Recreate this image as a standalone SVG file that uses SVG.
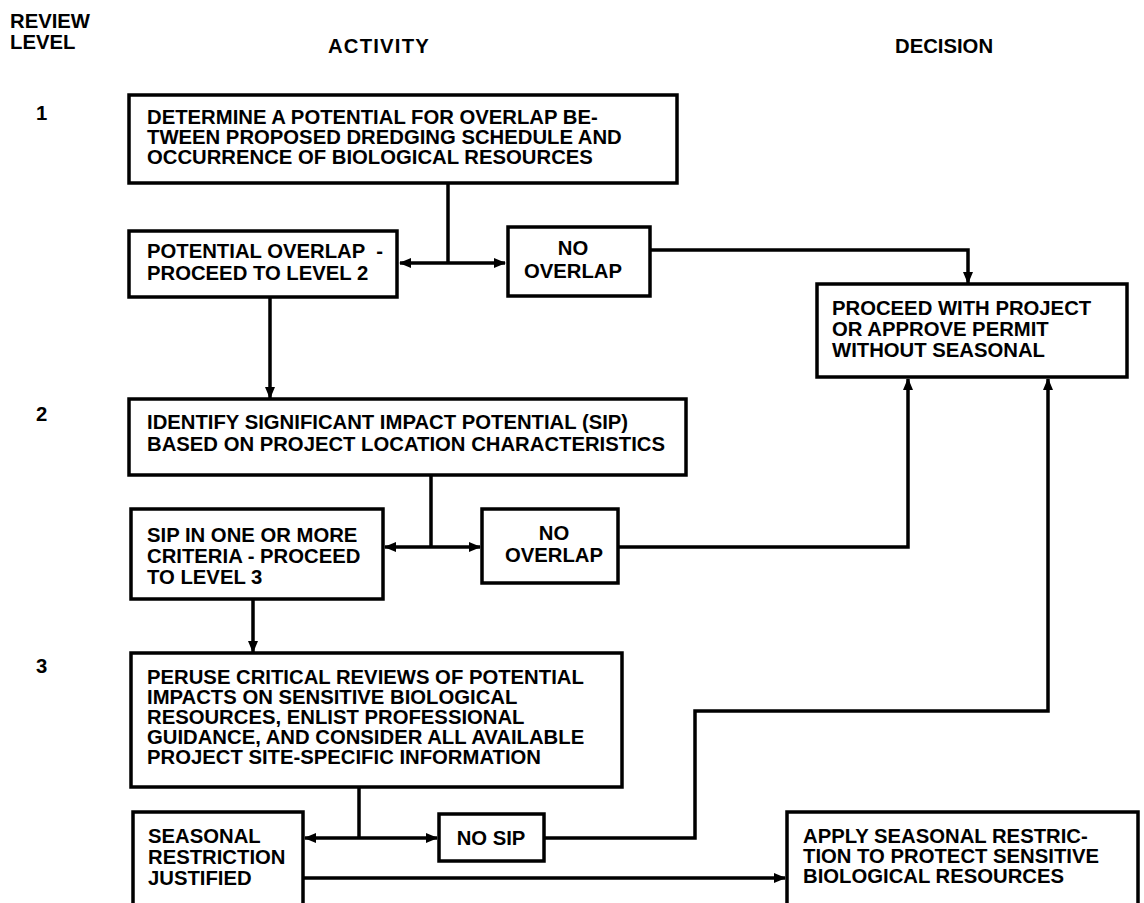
<svg xmlns="http://www.w3.org/2000/svg" width="1144" height="903" viewBox="0 0 1144 903">
<defs>
<style>
text{font-family:"Liberation Sans",Arial,sans-serif;font-weight:bold;font-size:20.3px;fill:#000;white-space:pre}
.box{fill:#fff;stroke:#000;stroke-width:3.5}
.c{fill:none;stroke:#000;stroke-width:3.5}
.m{text-anchor:middle}
</style>
<marker id="ah" viewBox="0 0 12 10" refX="11" refY="5" markerWidth="12" markerHeight="10" markerUnits="userSpaceOnUse" orient="auto-start-reverse">
<path d="M0,0 L12,5 L0,10 z" fill="#000"/>
</marker>
</defs>
<rect width="1144" height="903" fill="#fff"/>

<g id="headers">
<text x="10" y="28">REVIEW</text>
<text x="10" y="49">LEVEL</text>
<text x="328" y="53" letter-spacing="1.2">ACTIVITY</text>
<text x="895" y="53">DECISION</text>
<text x="36" y="120">1</text>
<text x="36" y="421">2</text>
<text x="36" y="673">3</text>
</g>

<g id="connectors">
<path class="c" d="M448,183 V263"/>
<path class="c" d="M400,263 H505" marker-start="url(#ah)" marker-end="url(#ah)"/>
<path class="c" d="M650,250 H968 V283" marker-end="url(#ah)"/>
<path class="c" d="M270,297 V398" marker-end="url(#ah)"/>
<path class="c" d="M431,475 V547"/>
<path class="c" d="M385,547 H480" marker-start="url(#ah)" marker-end="url(#ah)"/>
<path class="c" d="M618,547 H908 V379" marker-end="url(#ah)"/>
<path class="c" d="M253,599 V652" marker-end="url(#ah)"/>
<path class="c" d="M359,787 V838"/>
<path class="c" d="M305,838 H437" marker-start="url(#ah)" marker-end="url(#ah)"/>
<path class="c" d="M544,838 H695 V711 H1048 V379" marker-end="url(#ah)"/>
<path class="c" d="M303,878 H785" marker-end="url(#ah)"/>
</g>

<g id="determine">
<rect class="box" x="129" y="95" width="548" height="88"/>
<text x="147" y="124">DETERMINE A POTENTIAL FOR OVERLAP BE-</text>
<text x="147" y="144">TWEEN PROPOSED DREDGING SCHEDULE AND</text>
<text x="147" y="164">OCCURRENCE OF BIOLOGICAL RESOURCES</text>
</g>

<g id="potential-overlap">
<rect class="box" x="129" y="231" width="268" height="66"/>
<text x="147" y="258">POTENTIAL OVERLAP  -</text>
<text x="147" y="280">PROCEED TO LEVEL 2</text>
</g>

<g id="no-overlap-1">
<rect class="box" x="508" y="227" width="142" height="69"/>
<text class="m" x="573" y="255">NO</text>
<text class="m" x="573" y="278">OVERLAP</text>
</g>

<g id="proceed">
<rect class="box" x="817" y="284" width="310" height="93"/>
<text x="832" y="315">PROCEED WITH PROJECT</text>
<text x="832" y="336">OR APPROVE PERMIT</text>
<text x="832" y="357">WITHOUT SEASONAL</text>
</g>

<g id="identify">
<rect class="box" x="129" y="399" width="557" height="76"/>
<text x="147" y="429">IDENTIFY SIGNIFICANT IMPACT POTENTIAL (SIP)</text>
<text x="147" y="451">BASED ON PROJECT LOCATION CHARACTERISTICS</text>
</g>

<g id="sip-criteria">
<rect class="box" x="131" y="509" width="252" height="90"/>
<text x="147" y="542">SIP IN ONE OR MORE</text>
<text x="147" y="563">CRITERIA - PROCEED</text>
<text x="147" y="584">TO LEVEL 3</text>
</g>

<g id="no-overlap-2">
<rect class="box" x="482" y="509" width="136" height="74"/>
<text class="m" x="554" y="540">NO</text>
<text class="m" x="554" y="562">OVERLAP</text>
</g>

<g id="peruse">
<rect class="box" x="131" y="653" width="491" height="134"/>
<text x="147" y="684">PERUSE CRITICAL REVIEWS OF POTENTIAL</text>
<text x="147" y="704">IMPACTS ON SENSITIVE BIOLOGICAL</text>
<text x="147" y="724">RESOURCES, ENLIST PROFESSIONAL</text>
<text x="147" y="744">GUIDANCE, AND CONSIDER ALL AVAILABLE</text>
<text x="147" y="764">PROJECT SITE-SPECIFIC INFORMATION</text>
</g>

<g id="seasonal">
<rect class="box" x="133" y="812" width="170" height="110"/>
<text x="148" y="843">SEASONAL</text>
<text x="148" y="864">RESTRICTION</text>
<text x="148" y="885">JUSTIFIED</text>
</g>

<g id="no-sip">
<rect class="box" x="439" y="814" width="105" height="47"/>
<text class="m" x="491" y="845">NO SIP</text>
</g>

<g id="apply">
<rect class="box" x="787" y="812" width="351" height="110"/>
<text x="803" y="843">APPLY SEASONAL RESTRIC-</text>
<text x="803" y="863">TION TO PROTECT SENSITIVE</text>
<text x="803" y="883">BIOLOGICAL RESOURCES</text>
</g>
</svg>
